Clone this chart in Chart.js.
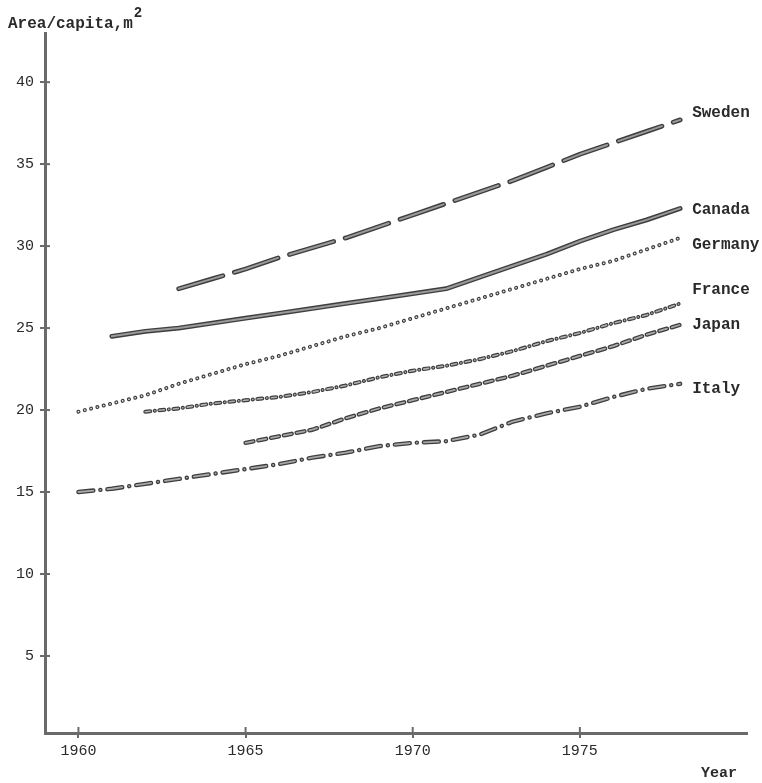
<!DOCTYPE html>
<html>
<head>
<meta charset="utf-8">
<script src="https://cdn.jsdelivr.net/npm/chart.js@4/dist/chart.umd.min.js"></script>
<style>
  html, body { margin: 0; padding: 0; background: #ffffff; }
  #wrap { width: 762px; height: 783px; position: relative; }
</style>
</head>
<body>
<div id="wrap"><canvas id="c" width="762" height="783"></canvas></div>
<script>
const years = [1960,1961,1962,1963,1964,1965,1966,1967,1968,1969,1970,1971,1972,1973,1974,1975,1976,1977,1978];
const sweden  = [null,null,null,27.4,28.0,28.6,29.3,29.9,30.5,31.2,31.9,32.6,33.3,34.0,34.8,35.6,36.3,37.0,37.7];
const canada  = [null,24.5,24.8,25.0,25.3,25.6,25.9,26.2,26.5,26.8,27.1,27.4,28.1,28.8,29.5,30.3,31.0,31.6,32.3];
const germany = [19.9,20.4,20.9,21.6,22.2,22.8,23.3,23.9,24.5,25.0,25.6,26.2,26.8,27.4,28.0,28.6,29.1,29.8,30.5];
const france  = [null,null,19.9,20.1,20.4,20.6,20.8,21.1,21.5,22.0,22.4,22.7,23.1,23.6,24.2,24.7,25.3,25.8,26.5];
const japan   = [null,null,null,null,null,18.0,18.4,18.8,19.5,20.1,20.6,21.1,21.6,22.1,22.7,23.3,23.9,24.6,25.2];
const italy   = [15.0,15.2,15.5,15.8,16.1,16.4,16.7,17.1,17.4,17.8,18.0,18.1,18.5,19.3,19.8,20.2,20.8,21.3,21.6];
const countryNames = ['Sweden','Canada','Germany','France','Japan','Italy'];
const xTicks = [1960,1965,1970,1975];
const yTicks = [5,10,15,20,25,30,35,40];

const seriesValues = [sweden, canada, germany, france, japan, italy];
const styles = [
  { dash: [46, 12], outer: 4.8, inner: 2.0 },
  { dash: [], outer: 4.8, inner: 2.0 },
  { dash: [0.1, 6.4], outer: 4.0, inner: 1.6 },
  { dash: [5, 4.5, 0.1, 4.5], outer: 4.0, inner: 1.6 },
  { dash: [8, 5], outer: 4.4, inner: 1.8 },
  { dash: [15, 7, 0.1, 7], outer: 4.4, inner: 1.8 }
];
// label offsets (value units, relative to last point) for the end-of-line labels
const labelShift = [0.4, -0.1, -0.4, 0.8, 0, -0.3];

const LINE = '#6a6a6a';
const DARK = '#3e3e3e';
const LIGHT = ['#9a9a9a', '#9a9a9a', '#e8e8e8', '#b0b0b0', '#a8a8a8', '#a8a8a8'];
const TEXT = '#2a2a2a';
const FONT = '"Liberation Mono", "DejaVu Sans Mono", monospace';

const datasets = [];
seriesValues.forEach((vals, i) => {
  const pts = years.map((y, k) => vals[k] === null ? null : { x: y, y: vals[k] }).filter(p => p);
  datasets.push({
    label: countryNames[i],
    data: pts,
    borderColor: DARK,
    borderWidth: styles[i].outer,
    borderDash: styles[i].dash,
    borderCapStyle: 'round',
    borderJoinStyle: 'round',
    pointRadius: 0, fill: false, tension: 0, order: 1
  });
  datasets.push({
    label: countryNames[i] + ' inner',
    data: pts,
    borderColor: LIGHT[i],
    borderWidth: styles[i].inner,
    borderDash: styles[i].dash,
    borderCapStyle: 'round',
    borderJoinStyle: 'round',
    pointRadius: 0, fill: false, tension: 0, order: 0
  });
});

const textPlugin = {
  id: 'texts',
  afterDraw(chart) {
    const ctx = chart.ctx;
    const xs = chart.scales.x, ys = chart.scales.y;
    ctx.save();
    ctx.fillStyle = TEXT;
    ctx.textBaseline = 'middle';
    ctx.textAlign = 'left';
    ctx.font = 'bold 16px ' + FONT;
    seriesValues.forEach((vals, i) => {
      const last = vals[vals.length - 1];
      const px = xs.getPixelForValue(years[years.length - 1]) + 12;
      const py = ys.getPixelForValue(last + labelShift[i]);
      ctx.fillText(countryNames[i], px, py);
    });
    // axis title
    ctx.textBaseline = 'alphabetic';
    ctx.font = 'bold 16px ' + FONT;
    ctx.fillText('Area/capita,m', 8, 28);
    const w = ctx.measureText('Area/capita,m').width;
    ctx.font = 'bold 14px ' + FONT;
    ctx.fillText('2', 8 + w + 1, 17);
    ctx.font = 'bold 15px ' + FONT;
    ctx.fillText('Year', 701, 777);
    // inner halves of tick crosses
    ctx.strokeStyle = LINE;
    ctx.lineWidth = 2;
    yTicks.forEach(v => {
      const py = ys.getPixelForValue(v);
      ctx.beginPath(); ctx.moveTo(xs.left, py); ctx.lineTo(xs.left + 5, py); ctx.stroke();
    });
    xTicks.forEach(v => {
      const px = xs.getPixelForValue(v);
      ctx.beginPath(); ctx.moveTo(px, ys.bottom); ctx.lineTo(px, ys.bottom - 6); ctx.stroke();
    });
    ctx.restore();
  }
};

new Chart(document.getElementById('c'), {
  type: 'line',
  data: { datasets },
  options: {
    responsive: false,
    animation: false,
    events: [],
    layout: { padding: { left: 0, top: 33, right: 15, bottom: 0 } },
    plugins: { legend: { display: false }, tooltip: { enabled: false } },
    scales: {
      x: {
        type: 'linear',
        min: 1959,
        max: 1980,
        afterBuildTicks(scale) { scale.ticks = xTicks.map(v => ({ value: v })); },
        afterFit(scale) { scale.height = 50; },
        border: { display: true, color: LINE, width: 3 },
        grid: { display: true, drawOnChartArea: false, drawTicks: true, tickLength: 5, color: LINE, lineWidth: 2 },
        ticks: { color: TEXT, font: { family: FONT, size: 15 }, padding: 4, maxRotation: 0, callback: v => String(v) }
      },
      y: {
        type: 'linear',
        min: 0.3,
        max: 43,
        afterBuildTicks(scale) { scale.ticks = yTicks.map(v => ({ value: v })); },
        afterFit(scale) { scale.width = 45; },
        border: { display: true, color: LINE, width: 3 },
        grid: { display: true, drawOnChartArea: false, drawTicks: true, tickLength: 5, color: LINE, lineWidth: 2 },
        ticks: { color: TEXT, font: { family: FONT, size: 15 }, padding: 6, callback: v => String(v) }
      }
    }
  },
  plugins: [textPlugin]
});
</script>
</body>
</html>
